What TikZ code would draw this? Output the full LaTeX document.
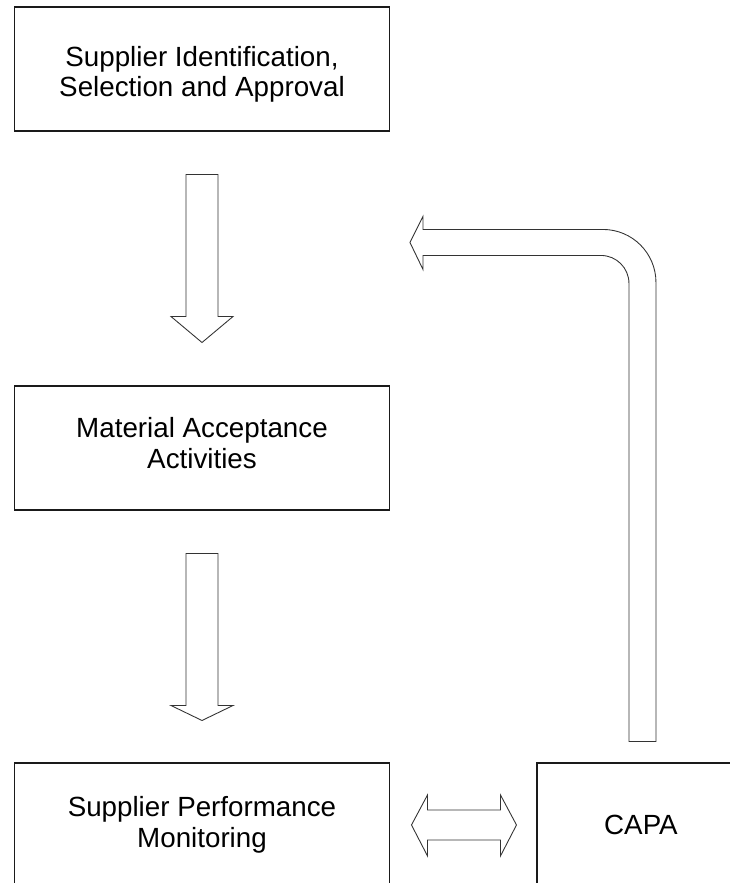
\documentclass[tikz,border=0pt]{standalone}
\usepackage{fontspec}
\setsansfont{Liberation Sans}
\usetikzlibrary{positioning, calc}
\definecolor{cline}{HTML}{1A1A1A}
\definecolor{carrow}{HTML}{333333}
\tikzset{
  every picture/.style={font=\sffamily, line width=0.6pt},
  box/.style={draw=cline, fill=white, align=center, inner sep=4pt,
    minimum width=7.52cm, minimum height=2.48cm,
    font=\sffamily\fontsize{15.8}{17.5}\selectfont},
  blockarrow/.style={draw=carrow, fill=white, line width=0.5pt, line join=miter},
}

\begin{document}
\begin{tikzpicture}[x=0.02cm, y=-0.02cm]
  \useasboundingbox (0,0) rectangle (730,883);
  \clip (0,0) rectangle (730,883);
  \node[box, text height=35pt] (sel) at (202,69) {Supplier Identification,\\Selection and Approval};
  \node[box, text depth=5.6pt, below=5.08cm of sel] (mat) {Material Acceptance\\Activities};
  \node[box, below=5.04cm of mat] (mon) {Supplier Performance\\Monitoring};
  \node[box, right=2.92cm of mon, minimum width=4.16cm] (capa) {CAPA};
  % down arrows
  \draw[blockarrow] ($(sel.south)+(-16,43)$) -- ++(0,142) -- ++(-15,0) -- ++(31,26)
    -- ++(31,-26) -- ++(-15,0) -- ++(0,-142) -- cycle;
  \draw[blockarrow] ($(mat.south)+(-16,43)$) -- ++(0,152) -- ++(-15,0) -- ++(31,15)
    -- ++(31,-15) -- ++(-15,0) -- ++(0,-152) -- cycle;
  % both ways
  \draw[blockarrow] ($(mon.east)+(21,0)$) -- ++(16,-30) -- ++(0,15) -- ++(73,0)
    -- ++(0,-15) -- ++(16,30) -- ++(-16,31) -- ++(0,-16) -- ++(-73,0) -- ++(0,16) -- cycle;
  % feedback
  \draw[blockarrow] ($(capa.north)+(-12,-21)$) -- ++(0,-458)
    arc[start angle=0, end angle=-90, radius=28] -- ++(-178,0) -- ++(0,14)
    -- ++(-13,-27) -- ++(13,-26) -- ++(0,13) -- ++(180,0)
    arc[start angle=-90, end angle=0, radius=53] -- ++(0,459) -- cycle;
\end{tikzpicture}
\end{document}
